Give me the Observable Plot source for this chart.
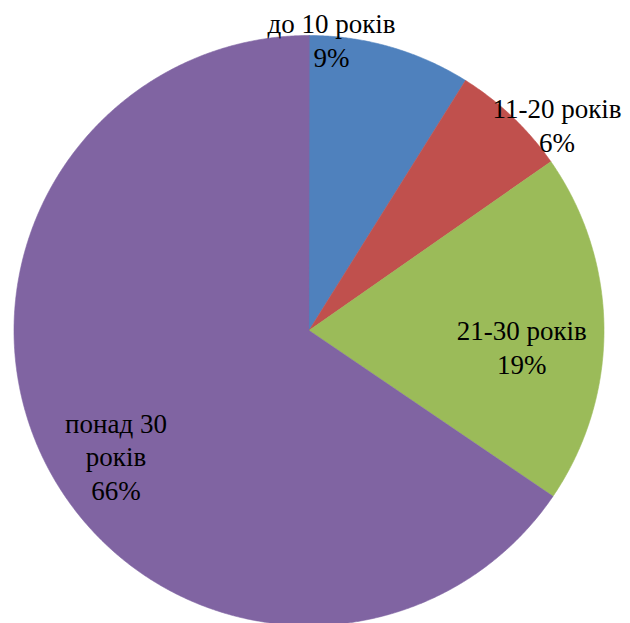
<!DOCTYPE html>
<html><head><meta charset="utf-8">
<script src="https://cdn.jsdelivr.net/npm/d3@7"></script>
<script src="https://cdn.jsdelivr.net/npm/@observablehq/plot@0.6"></script>
<style>body{margin:0;background:#fff}svg{display:block}</style>
</head><body><div id="chart"></div>
<script>
// data
const categories = ["до 10 років", "11-20 років", "21-30 років", "понад 30 років"];
const labelNames = ["до 10 років", "11-20 років", "21-30 років", "понад 30\nроків"];
const values = [8.9, 6.4, 19.2, 65.5];
const colors = ["#4F81BD", "#C0504D", "#9BBB59", "#8064A2"];

// layout (pixels of the frame)
const W = 630, H = 623, CX = 308.5, CY = 330, R = 295;
// label placement: angular offset from slice middle (deg) and radius fraction
const labelAngleShift = [-11.6, 6.7, 4.6, -5.0];
const labelRadius = [0.99, 1.093, 0.723, 0.779];

const arcs = d3.pie().sort(null).value(d => d)(values);
const pts = [];
arcs.forEach((a, i) => {
  pts.push({cat: categories[i], x: 0, y: 0});
  const n = Math.max(2, Math.ceil((a.endAngle - a.startAngle) / (Math.PI / 720)));
  for (let k = 0; k <= n; k++) {
    const t = a.startAngle + (a.endAngle - a.startAngle) * k / n;
    pts.push({cat: categories[i], x: Math.sin(t), y: Math.cos(t)});
  }
});
const lbl = arcs.map((a, i) => {
  const t = (a.startAngle + a.endAngle) / 2 + labelAngleShift[i] * Math.PI / 180;
  return {
    x: labelRadius[i] * Math.sin(t),
    y: labelRadius[i] * Math.cos(t),
    text: labelNames[i] + "\n" + Math.round(values[i]) + "%"
  };
});

const chart = Plot.plot({
  width: W, height: H, margin: 0,
  x: {domain: [-CX / R, (W - CX) / R], axis: null},
  y: {domain: [-(H - CY) / R, CY / R], axis: null},
  color: {domain: categories, range: colors},
  marks: [
    Plot.line(pts, {x: "x", y: "y", z: "cat", fill: "cat", stroke: "cat", strokeWidth: 0.6, curve: "linear-closed"}),
    Plot.text(lbl, {x: "x", y: "y", text: "text", fontSize: 27, lineHeight: 1.24, fontFamily: "Liberation Serif", fill: "#000", textAnchor: "middle", lineAnchor: "middle"})
  ]
});
document.getElementById("chart").appendChild(chart);
</script>
</body></html>
